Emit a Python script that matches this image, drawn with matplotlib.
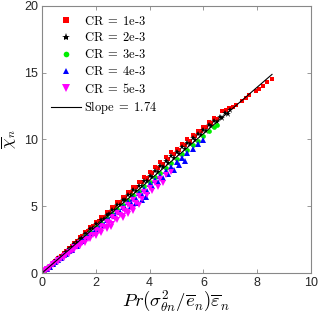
import matplotlib
matplotlib.use("Agg")
import matplotlib.pyplot as plt
import numpy as np

plt.rcParams['mathtext.fontset'] = 'cm'

# ---- data ----
# CR = 1e-3 (red squares)
red_x = [0.2,0.4,0.6,0.8,1.0,1.2,1.4,1.6,1.8,2.0,2.2,2.4,2.6,2.8,3.0,3.2,3.4,3.6,3.8,4.0,4.2,4.4,4.6,4.8,5.0,5.2,5.4,5.6,5.8,6.0,6.2,6.4,
         6.7,6.95,7.2,7.45,7.7,7.95,8.2,8.55,
         0.3,0.5,0.7,0.9,1.1,1.3,1.5,1.7,1.9,2.1,2.3,2.5,2.7,2.9,3.1,3.3,3.5,3.7,3.9,4.1,4.3,4.5,4.7,4.9,5.1,5.3,5.5,5.7,5.9,6.1,6.3,6.5,
         6.85,7.1,7.6,8.05,8.35]
red_y = [0.38,0.76,1.14,1.52,1.9,2.28,2.66,3.04,3.42,3.8,4.18,4.56,4.94,5.32,5.7,6.08,6.46,6.84,7.2,7.58,7.95,8.32,8.68,9.04,9.3,9.66,10.0,10.35,10.6,10.95,11.3,11.6,
         12.1,12.35,12.6,12.85,13.3,13.6,14.0,14.5,
         0.55,0.92,1.29,1.66,2.02,2.39,2.76,3.13,3.5,3.86,4.23,4.6,4.97,5.34,5.7,6.07,6.44,6.8,7.15,7.5,7.85,8.2,8.55,8.9,9.25,9.6,9.9,10.25,10.6,10.9,11.25,11.55,
         12.2,12.4,13.1,13.8,14.3]

# CR = 2e-3 (black stars)
black_x = [0.2,0.4,0.6,0.8,1.0,1.2,1.4,1.6,1.8,2.0,2.2,2.4,2.6,2.8,3.0,3.2,3.4,3.6,3.8,4.0,4.2,4.4,4.6,4.8,5.0,5.2,5.4,5.6,5.8,6.0,6.2,6.4,6.6,6.8,7.0,
           0.1,0.3,0.5,0.7,0.9,1.1,1.3,1.5,1.7,1.9,2.1,2.3,2.5,2.7,2.9,3.1,3.3,3.5,3.7,3.9,4.1,4.3,4.5,4.7,4.9,5.1,5.3,5.5,5.7,5.9,6.1,6.3,6.5,6.7,6.9]
black_y = [0.36,0.73,1.09,1.46,1.82,2.18,2.55,2.91,3.28,3.64,4.0,4.37,4.73,5.1,5.46,5.82,6.19,6.55,6.92,7.28,7.64,8.0,8.37,8.73,9.1,9.42,9.75,10.08,10.4,10.72,11.05,11.35,11.65,11.95,12.2,
           0.18,0.53,0.88,1.23,1.58,1.94,2.29,2.64,2.99,3.34,3.7,4.05,4.4,4.75,5.1,5.46,5.81,6.16,6.51,6.86,7.22,7.57,7.92,8.27,8.62,8.95,9.3,9.65,9.98,10.3,10.65,10.98,11.3,11.6,11.9]

# CR = 3e-3 (green circles)
green_x = [0.2,0.4,0.6,0.8,1.0,1.2,1.4,1.6,1.8,2.0,2.2,2.4,2.6,2.8,3.0,3.2,3.4,3.6,3.8,4.0,4.2,4.4,4.6,4.8,5.0,5.2,5.4,5.6,5.8,6.0,6.2,6.4,6.5]
green_y = [0.34,0.68,1.03,1.37,1.71,2.05,2.39,2.74,3.08,3.42,3.76,4.1,4.45,4.79,5.13,5.47,5.81,6.16,6.5,6.84,7.18,7.52,7.87,8.21,8.55,8.89,9.23,9.58,9.92,10.26,10.6,10.95,11.1]

# CR = 4e-3 (blue up-triangles)
blue_x = [0.2,0.4,0.6,0.8,1.0,1.2,1.4,1.6,1.8,2.0,2.2,2.4,2.6,2.8,3.0,3.2,3.4,3.6,3.8,4.0,4.2,4.4,4.6,4.8,5.0,5.2,5.4,5.6,5.8,6.0,
          0.3,0.5,0.7,0.9,1.1,1.3,1.5,1.7,1.9,2.1,2.3,2.5,2.7,2.9,3.1,3.3,3.5,3.7,3.9,4.1,4.3,4.5,4.7,4.9,5.1,5.3,
          3.3,3.5,3.7,3.85]
blue_y = [0.33,0.66,1.0,1.33,1.66,1.99,2.32,2.66,2.99,3.32,3.65,3.98,4.32,4.65,4.98,5.31,5.64,5.98,6.31,6.64,6.97,7.3,7.64,7.97,8.3,8.63,8.96,9.3,9.63,9.96,
          0.47,0.79,1.11,1.42,1.74,2.05,2.37,2.69,3.0,3.32,3.63,3.95,4.27,4.58,4.9,5.21,5.53,5.85,6.16,6.48,6.79,7.11,7.43,7.74,8.06,8.37,
          5.0,5.25,5.5,5.7]

# CR = 5e-3 (magenta down-triangles)
magenta_x = [0.2,0.4,0.6,0.8,1.0,1.2,1.4,1.6,1.8,2.0,2.2,2.4,2.6,2.8,3.0,3.2,3.4,3.6,3.8,4.0,4.2,4.4,4.6,4.8,
             0.3,0.5,0.7,0.9,1.1,1.3,1.5,1.7,1.9,2.1,2.3,2.5,2.7,2.9,3.1,3.3,3.5,3.7,3.9,4.1,4.3,4.5,
             0.2,0.4,0.6,0.8,1.0,1.2,1.4,1.6,1.8,2.0,2.2,2.4,2.6,2.8,3.0,3.2,3.4,3.6,
             2.0,2.2,2.4,2.55,3.0,3.2,3.4,0.1,0.15,0.25]
magenta_y = [0.32,0.64,0.96,1.28,1.6,1.92,2.24,2.56,2.88,3.2,3.52,3.84,4.16,4.48,4.8,5.12,5.44,5.76,6.08,6.4,6.72,7.04,7.33,7.6,
             0.45,0.75,1.05,1.35,1.65,1.95,2.25,2.55,2.85,3.15,3.45,3.75,4.05,4.35,4.65,4.95,5.25,5.55,5.85,6.15,6.45,6.75,
             0.28,0.57,0.85,1.14,1.42,1.7,1.99,2.27,2.56,2.84,3.12,3.41,3.69,3.98,4.26,4.54,4.83,5.11,
             2.75,3.0,3.3,3.45,4.1,4.4,4.65,0.12,0.2,0.3]

fit_x = [0.0, 8.55]
slope = 1.74
cr_labels = ['1e-3', '2e-3', '3e-3', '4e-3', '5e-3']

def lab(s):
    a, b = s.split('-')
    return r'$\mathrm{CR}\;=\;' + a[0] + r'\mathrm{e}\text{-}' + b + '$'

fig = plt.figure(figsize=(3.19, 3.19), dpi=100)
ax = fig.add_axes([0.1317, 0.1442, 0.8433, 0.8370])

ax.plot(red_x, red_y, 's', color='red', ms=3.4, mew=0, label=lab(cr_labels[0]))
ax.plot(black_x, black_y, '*', color='black', ms=5.0, mew=0, label=lab(cr_labels[1]))
ax.plot(green_x, green_y, 'o', color='#00ee00', ms=3.4, mew=0, label=lab(cr_labels[2]))
ax.plot(blue_x, blue_y, '^', color='blue', ms=4.0, mew=0, label=lab(cr_labels[3]))
ax.plot(magenta_x, magenta_y, 'v', color='magenta', ms=4.5, mew=0, label=lab(cr_labels[4]))
fx = np.array(fit_x)
ax.plot(fx, slope * fx, '-', color='black', lw=0.8, label=r'$\mathrm{Slope}\;=\;1.74$')

ax.set_xlim(0, 10)
ax.set_ylim(0, 20)
ax.set_xticks([0, 2, 4, 6, 8, 10])
ax.set_yticks([0, 5, 10, 15, 20])
for s in ax.spines.values():
    s.set_color('#888888')
    s.set_linewidth(0.8)
ax.tick_params(direction='in', top=True, right=True, length=3, width=0.6,
               color='#888888', labelsize=9, labelcolor='#262626', pad=3)
for t in ax.get_xticklabels() + ax.get_yticklabels():
    t.set_family('Liberation Sans')

ax.set_xlabel(r'$Pr(\sigma^2_{\theta n}/\overline{e}_n)\overline{\varepsilon}_n$', fontsize=13.5, labelpad=0)
ax.set_ylabel(r'$\overline{\chi}_n$', fontsize=12)
ax.yaxis.set_label_coords(-0.09, 0.5)

leg = ax.legend(loc='upper left', frameon=False, fontsize=9, handlelength=2.4,
                handletextpad=0.25, labelspacing=0.3, borderaxespad=0.3,
                bbox_to_anchor=(0.0, 1.0), markerscale=1.2)

fig.savefig('out.png', dpi=100)
